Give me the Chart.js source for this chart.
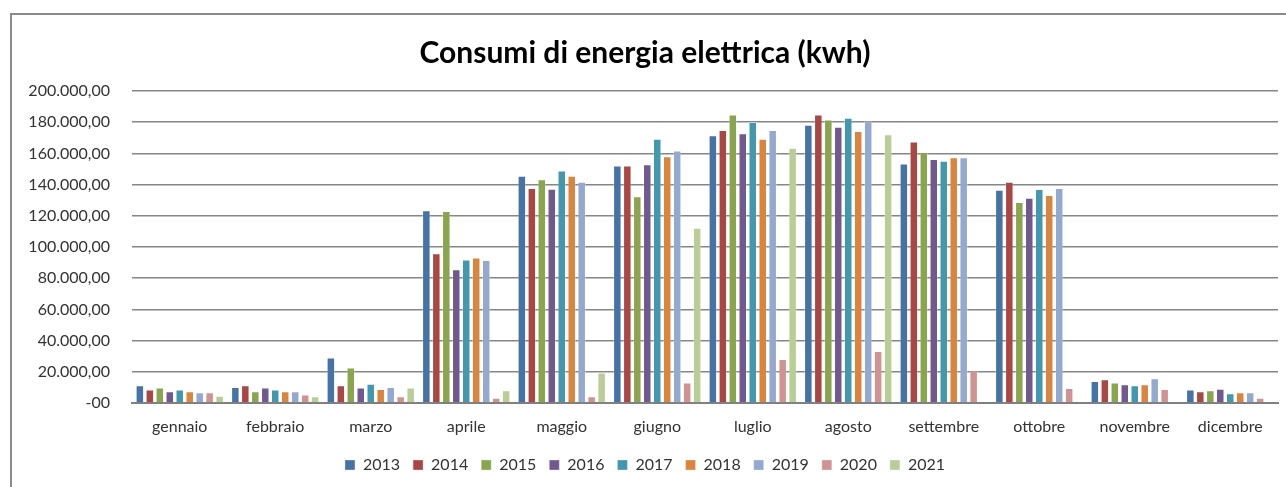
<!DOCTYPE html>
<html>
<head>
<meta charset="utf-8">
<script src="https://cdn.jsdelivr.net/npm/chart.js@4"></script>
<style>
    html, body { margin: 0; padding: 0; overflow: hidden; background: #fff; }
    body { width: 1286px; height: 487px; position: relative; }
    #frame {
        position: absolute; left: 10px; top: 13px;
        width: 1400px; height: 600px;
        border: 2px solid #8a8a8a;
    }
    #energyChart { position: absolute; left: 0; top: 0; }
</style>
</head>
<body>
<div id="frame">
    <canvas id="energyChart" width="1284" height="472"></canvas>
</div>
<script>
// Mesi (asse x)
const mesi = ['gennaio', 'febbraio', 'marzo', 'aprile', 'maggio', 'giugno', 'luglio', 'agosto', 'settembre', 'ottobre', 'novembre', 'dicembre'];

// Consumi per anno (kwh)
const anno2013 = [11400, 10300, 29100, 123600, 145700, 152300, 171600, 178400, 153600, 136700, 14100, 8600];
const anno2014 = [8600, 11400, 11400, 96000, 137800, 152300, 175000, 185000, 167700, 141800, 15200, 7500];
const anno2015 = [9900, 7500, 22700, 123000, 143500, 132600, 185000, 181800, 160900, 128800, 13100, 8100];
const anno2016 = [7500, 9900, 9900, 85800, 137300, 153000, 172900, 177100, 156400, 131500, 12000, 9200];
const anno2017 = [8600, 8600, 12400, 92000, 149100, 169400, 180100, 182900, 155300, 137100, 11400, 6200];
const anno2018 = [7500, 7500, 9000, 93300, 145700, 158100, 169400, 174300, 157500, 133300, 12000, 6900];
const anno2019 = [6900, 7500, 10300, 91600, 141800, 161900, 175000, 180600, 157500, 137800, 15800, 6900];
const anno2020 = [6900, 5400, 4300, 3400, 4300, 13100, 28200, 33400, 20800, 9600, 9000, 3400];
const anno2021 = [4700, 4300, 9900, 8100, 19500, 112300, 163600, 172200, null, null, null, null];

const anni = ['2013', '2014', '2015', '2016', '2017', '2018', '2019', '2020', '2021'];
const serie = [anno2013, anno2014, anno2015, anno2016, anno2017, anno2018, anno2019, anno2020, anno2021];
const colori = ['#4572A7', '#AA4643', '#89A54E', '#71588F', '#4198AF', '#DB843D', '#93A9CF', '#D19392', '#B9CD96'];

// Tick dell'asse y
const yMin = 0;
const yMax = 200000;
const yStep = 20000;

// formato tipo Excel: 200.000,00 e -00 per lo zero
function formatoNumero(v) {
    if (v === 0) return '-00';
    const s = Math.round(v).toString().replace(/\B(?=(\d{3})+(?!\d))/g, '.');
    return s + ',00';
}

const fontBase = 'Lato, "Open Sans", "DejaVu Sans", sans-serif';

const data = {
    labels: mesi,
    datasets: anni.map((anno, i) => ({
        label: anno,
        data: serie[i],
        backgroundColor: colori[i],
        borderColor: 'rgba(255, 255, 255, 0.3)',
        borderWidth: 1,
        categoryPercentage: 0.94,
        barPercentage: 0.85
    }))
};

const config = {
    type: 'bar',
    data: data,
    options: {
        responsive: false,
        animation: false,
        devicePixelRatio: 1,
        layout: {
            padding: { left: 0, right: 18, top: 0, bottom: 4 }
        },
        scales: {
            x: {
                grid: { display: false, drawTicks: false },
                border: { display: true, color: '#808080', width: 2 },
                ticks: {
                    color: '#333',
                    padding: 14,
                    font: { family: fontBase, size: 16 }
                },
                afterFit: function (scale) { scale.height = 41; }
            },
            y: {
                min: yMin,
                max: yMax,
                grid: { color: '#868686', lineWidth: 1.5, drawTicks: false },
                border: { display: false },
                ticks: {
                    stepSize: yStep,
                    color: '#333',
                    padding: 22,
                    font: { family: fontBase, size: 16 },
                    callback: value => formatoNumero(value)
                },
                afterFit: function (scale) { scale.width = 120; }
            }
        },
        plugins: {
            title: {
                display: true,
                text: 'Consumi di energia elettrica (kwh)',
                color: '#000',
                font: { family: fontBase, size: 30, weight: 'bold' },
                padding: { top: 20, bottom: 20 }
            },
            legend: {
                display: true,
                position: 'bottom',
                labels: {
                    color: '#333',
                    boxWidth: 10,
                    boxHeight: 10,
                    padding: 13,
                    font: { family: fontBase, size: 16 }
                }
            },
            tooltip: { enabled: false }
        }
    }
};

const energyChart = new Chart(document.getElementById('energyChart'), config);
</script>
</body>
</html>
